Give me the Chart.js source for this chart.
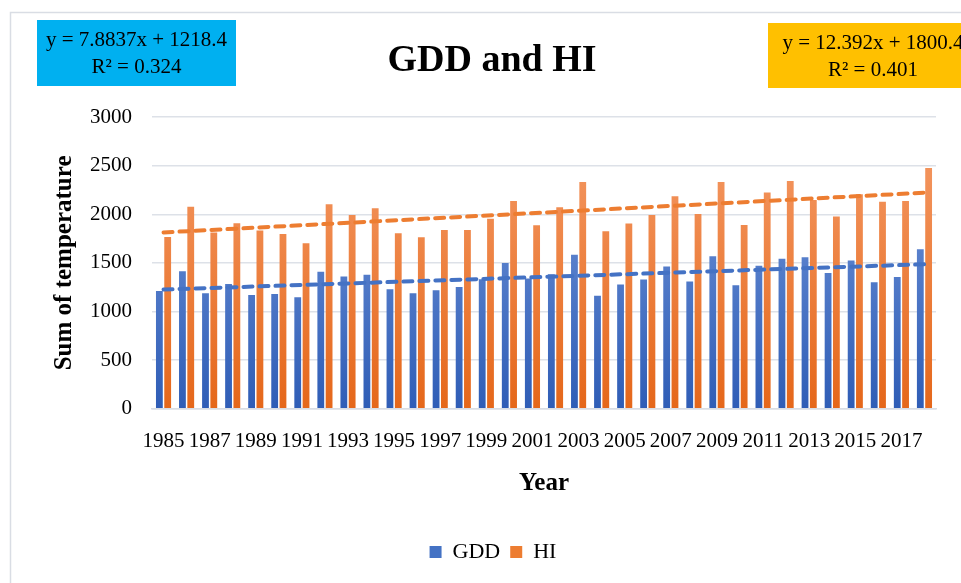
<!DOCTYPE html>
<html>
<head>
<meta charset="utf-8">
<script src="https://cdn.jsdelivr.net/npm/chart.js@4.4.1/dist/chart.umd.min.js"></script>
<style>
  html, body { margin: 0; padding: 0; background: #fff; }
  #wrap { width: 961px; height: 583px; position: relative; }
</style>
</head>
<body>
<div id="wrap"><canvas id="c"></canvas></div>
<script>
const years = [1985, 1986, 1987, 1988, 1989, 1990, 1991, 1992, 1993, 1994, 1995, 1996,
  1997, 1998, 1999, 2000, 2001, 2002, 2003, 2004, 2005, 2006, 2007, 2008, 2009, 2010,
  2011, 2012, 2013, 2014, 2015, 2016, 2017, 2018];

const gdd = [1210, 1415, 1189, 1282, 1169, 1179, 1148, 1408, 1360, 1377, 1230, 1189,
  1220, 1251, 1333, 1500, 1340, 1384, 1583, 1162, 1278, 1330, 1463, 1309, 1569, 1271,
  1470, 1542, 1559, 1395, 1524, 1302, 1354, 1641];

const hi = [1767, 2078, 1812, 1907, 1832, 1798, 1702, 2102, 1993, 2061, 1805, 1764,
  1839, 1839, 1955, 2136, 1887, 2071, 2331, 1825, 1904, 1993, 2184, 2003, 2331, 1890,
  2225, 2341, 2146, 1976, 2205, 2129, 2136, 2475];

// linear trend lines, read at first and last year
const gddTrendEnds = [1226, 1486];
const hiTrendEnds = [1813, 2222];

const gddEquation = ['y = 7.8837x + 1218.4', 'R² = 0.324'];
const hiEquation = ['y = 12.392x + 1800.4', 'R² = 0.401'];

const SERIF = '"Liberation Serif", "DejaVu Serif", serif';

function trendSeries(ends) {
  return years.map((y, i) => i === 0 ? ends[0] : (i === years.length - 1 ? ends[1] : null));
}

function barGradient(top, bottom) {
  return (ctx) => {
    const a = ctx.chart.chartArea;
    if (!a) return bottom;
    const g = ctx.chart.ctx.createLinearGradient(0, a.top + 60, 0, a.bottom);
    g.addColorStop(0, top);
    g.addColorStop(1, bottom);
    return g;
  };
}

// frame, title and the two equation boxes
const decorations = {
  id: 'decorations',
  beforeDraw(chart) {
    const c = chart.ctx;
    c.save();
    c.strokeStyle = '#d9dde4';
    c.lineWidth = 1.5;
    c.strokeRect(10.5, 12.5, 1000, 1000);
    c.restore();
  },
  afterDraw(chart) {
    const c = chart.ctx;
    c.save();
    c.fillStyle = '#000';
    c.textAlign = 'center';
    c.textBaseline = 'middle';
    c.font = 'bold 38px ' + SERIF;
    c.fillText('GDD and HI', 492, 61);

    function box(x, y, w, h, color, lines) {
      c.fillStyle = color;
      c.fillRect(x, y, w, h);
      c.fillStyle = '#000';
      c.font = '21px ' + SERIF;
      c.fillText(lines[0], x + w / 2, y + 20);
      c.fillText(lines[1], x + w / 2, y + 47);
    }
    box(37, 20, 199, 66, '#00b0f0', gddEquation);
    box(768, 23, 210, 65, '#ffc000', hiEquation);
    c.restore();
  }
};

new Chart(document.getElementById('c'), {
  type: 'bar',
  data: {
    labels: years,
    datasets: [
      {
        label: 'GDD',
        data: gdd,
        backgroundColor: barGradient('#6b90d6', '#2f5db6'),
        categoryPercentage: 0.72,
        barPercentage: 0.82,
        order: 2
      },
      {
        label: 'HI',
        data: hi,
        backgroundColor: barGradient('#f2925a', '#e5671a'),
        categoryPercentage: 0.72,
        barPercentage: 0.82,
        order: 2
      },
      {
        type: 'line',
        label: 'GDD trend',
        data: trendSeries(gddTrendEnds),
        spanGaps: true,
        borderColor: '#4472c4',
        borderWidth: 4,
        borderDash: [9, 7],
        borderCapStyle: 'round',
        pointRadius: 0,
        order: 1
      },
      {
        type: 'line',
        label: 'HI trend',
        data: trendSeries(hiTrendEnds),
        spanGaps: true,
        borderColor: '#ed7d31',
        borderWidth: 4,
        borderDash: [9, 7],
        borderCapStyle: 'round',
        pointRadius: 0,
        order: 1
      }
    ]
  },
  options: {
    responsive: true,
    maintainAspectRatio: false,
    animation: false,
    layout: { padding: { top: 117, right: 25, bottom: 10, left: 50 } },
    plugins: {
      title: { display: false },
      tooltip: { enabled: false },
      legend: {
        position: 'bottom',
        labels: {
          font: { family: SERIF, size: 22 },
          color: '#000',
          boxWidth: 12,
          boxHeight: 12,
          padding: 10,
          generateLabels: () => [
            { text: 'GDD', fillStyle: '#4472c4', strokeStyle: '#4472c4', lineWidth: 0, datasetIndex: 0 },
            { text: 'HI', fillStyle: '#ed7d31', strokeStyle: '#ed7d31', lineWidth: 0, datasetIndex: 1 }
          ]
        }
      }
    },
    scales: {
      x: {
        grid: { display: false, drawTicks: false },
        border: { color: '#d9dde4', width: 1.5 },
        ticks: {
          autoSkip: false,
          maxRotation: 0,
          minRotation: 0,
          padding: 20,
          color: '#000',
          font: { family: SERIF, size: 21 },
          callback: function (value, index) {
            return index % 2 === 0 ? years[index] : '';
          }
        },
        title: {
          display: true,
          text: 'Year',
          color: '#000',
          font: { family: SERIF, size: 25, weight: 'bold' },
          padding: { top: -5, bottom: 32 }
        }
      },
      y: {
        min: 0,
        max: 3000,
        afterFit: (scale) => { scale.width = 102; },
        grid: { color: '#dde1e8', lineWidth: 1.5, drawTicks: false },
        border: { display: false },
        ticks: {
          stepSize: 500,
          padding: 20,
          color: '#000',
          font: { family: SERIF, size: 21 },
          callback: (v) => String(v)
        },
        title: {
          display: true,
          text: 'Sum of temperature',
          color: '#000',
          font: { family: SERIF, size: 25, weight: 'bold' },
          padding: { top: 0, bottom: 12 }
        }
      }
    }
  },
  plugins: [decorations]
});
</script>
</body>
</html>
